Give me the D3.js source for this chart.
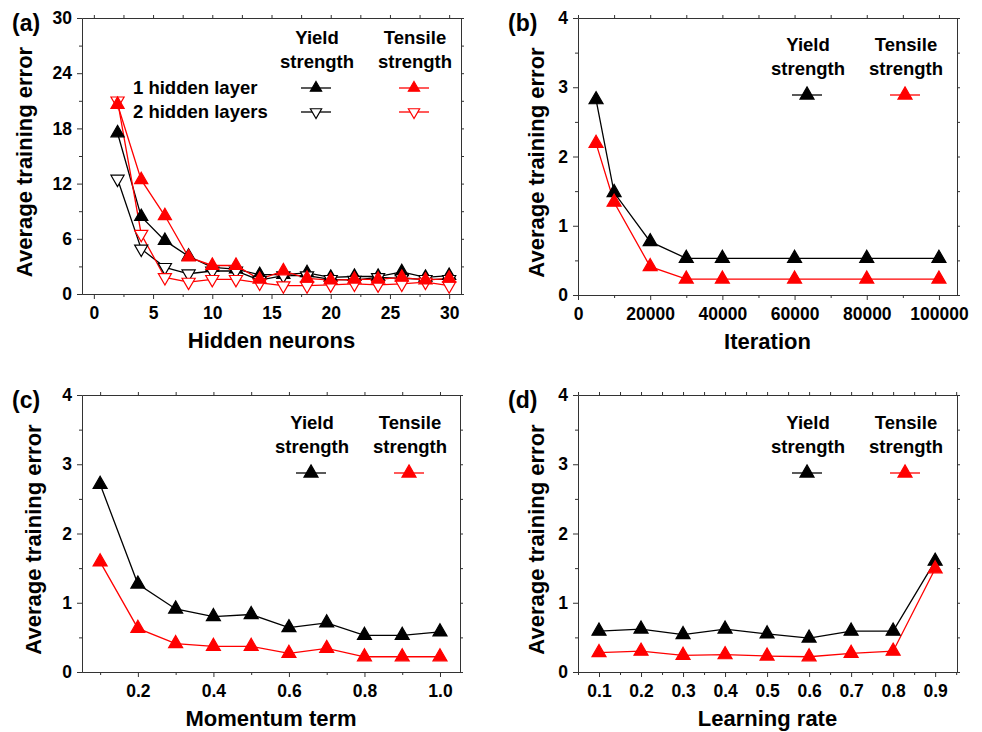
<!DOCTYPE html>
<html>
<head>
<meta charset="utf-8">
<script src="https://cdn.jsdelivr.net/npm/d3@7"></script>
<style>
body { margin: 0; background: #fff; }
text { font-family: "Liberation Sans", Arial, sans-serif; font-weight: bold; fill: #000; }
.axis text { font-size: 17.5px; font-family: "Liberation Sans", Arial, sans-serif; font-weight: bold; }
.axis path, .axis line { stroke: #333; stroke-width: 1; }
</style>
</head>
<body>
<div id="chart"></div>
<script>

// ---- data ----
// (a) hidden neurons
var neurons = [2, 4, 6, 8, 10, 12, 14, 16, 18, 20, 22, 24, 26, 28, 30];
var yield1Layer   = [17.5, 8.4, 5.8, 4.1, 2.9, 2.7, 2.1, 2.1, 2.3, 1.8, 1.9, 1.9, 2.4, 1.8, 2.0];
var tensile1Layer = [20.6, 12.4, 8.5, 4.0, 3.1, 3.1, 1.6, 2.5, 1.7, 1.5, 1.6, 1.6, 1.8, 1.5, 1.7];
var yield2Layer   = [12.5, 4.9, 2.9, 2.2, 2.5, 2.5, 1.5, 2.0, 2.0, 1.6, 1.5, 1.8, 1.7, 1.6, 1.6];
var tensile2Layer = [21.0, 6.5, 1.8, 1.3, 1.6, 1.6, 1.2, 0.9, 0.9, 1.0, 1.1, 1.0, 1.1, 1.3, 0.9];

// (b) iteration
var iterations   = [5000, 10000, 20000, 30000, 40000, 60000, 80000, 100000];
var yieldIter    = [2.82, 1.48, 0.77, 0.53, 0.53, 0.53, 0.53, 0.53];
var tensileIter  = [2.19, 1.34, 0.41, 0.23, 0.23, 0.23, 0.23, 0.23];

// (c) momentum term
var momentum     = [0.1, 0.2, 0.3, 0.4, 0.5, 0.6, 0.7, 0.8, 0.9, 1.0];
var yieldMom     = [2.71, 1.27, 0.91, 0.80, 0.83, 0.64, 0.71, 0.53, 0.53, 0.58];
var tensileMom   = [1.59, 0.63, 0.41, 0.37, 0.37, 0.27, 0.34, 0.22, 0.22, 0.22];

// (d) learning rate
var learningRate = [0.1, 0.2, 0.3, 0.4, 0.5, 0.6, 0.7, 0.8, 0.9];
var yieldRate    = [0.59, 0.62, 0.54, 0.62, 0.55, 0.49, 0.59, 0.59, 1.60];
var tensileRate  = [0.28, 0.30, 0.24, 0.25, 0.23, 0.22, 0.27, 0.30, 1.49];

// ticks
var aXTicks = [0, 5, 10, 15, 20, 25, 30],  aXMinor = [2.5, 7.5, 12.5, 17.5, 22.5, 27.5];
var aYTicks = [0, 6, 12, 18, 24, 30],      aYMinor = [3, 9, 15, 21, 27];
var bXTicks = [0, 20000, 40000, 60000, 80000, 100000];
var bXMinor = [10000, 30000, 50000, 70000, 90000];
var cXTicks = [0.2, 0.4, 0.6, 0.8, 1.0],   cXMinor = [0.1, 0.3, 0.5, 0.7, 0.9];
var dXTicks = [0.1, 0.2, 0.3, 0.4, 0.5, 0.6, 0.7, 0.8, 0.9];
var dXMinor = [0.05, 0.15, 0.25, 0.35, 0.45, 0.55, 0.65, 0.75, 0.85, 0.95];
var errTicks = [0, 1, 2, 3, 4],            errMinor = [0.5, 1.5, 2.5, 3.5];

var RED = "#ff0000";

var svg = d3.select("#chart").append("svg")
    .attr("width", 982)
    .attr("height", 732);

svg.append("rect").attr("width", 982).attr("height", 732).attr("fill", "#fff");

var triangle = d3.symbol().type(d3.symbolTriangle);

// draw one marker
function marker(g, cx, cy, s, size) {
    g.append("path")
        .attr("d", triangle.size(size)())
        .attr("transform", "translate(" + cx + "," + cy + ")" + (s.down ? " rotate(180)" : ""))
        .attr("fill", s.fill)
        .attr("stroke", s.color)
        .attr("stroke-width", 1.2);
}

function drawPanel(p) {
    var g = svg.append("g")
        .attr("transform", "translate(" + p.left + "," + p.top + ")");

    var x = d3.scaleLinear().domain(p.xDomain).range([0, p.width]);
    var y = d3.scaleLinear().domain(p.yDomain).range([p.height, 0]);

    // minor ticks
    g.append("g").attr("class", "axis")
        .attr("transform", "translate(0," + p.height + ")")
        .call(d3.axisBottom(x).tickValues(p.xMinor).tickSize(3).tickSizeOuter(0).tickFormat(""));
    g.append("g").attr("class", "axis")
        .call(d3.axisLeft(y).tickValues(p.yMinor).tickSize(3).tickSizeOuter(0).tickFormat(""));

    // major ticks + labels
    g.append("g").attr("class", "axis")
        .attr("transform", "translate(0," + p.height + ")")
        .call(d3.axisBottom(x).tickValues(p.xTicks).tickSize(5).tickSizeOuter(0)
            .tickPadding(8).tickFormat(p.xFormat));
    g.append("g").attr("class", "axis")
        .call(d3.axisLeft(y).tickValues(p.yTicks).tickSize(5).tickSizeOuter(0)
            .tickPadding(5).tickFormat(d3.format("d")));

    // mirrored top / right
    g.append("g").attr("class", "axis")
        .call(d3.axisTop(x).tickValues(p.xTicks.concat(p.xMinor)).tickSize(3).tickSizeOuter(0).tickFormat(""));
    g.append("g").attr("class", "axis")
        .attr("transform", "translate(" + p.width + ",0)")
        .call(d3.axisRight(y).tickValues(p.yTicks.concat(p.yMinor)).tickSize(3).tickSizeOuter(0).tickFormat(""));

    // axis titles
    svg.append("text")
        .attr("x", p.left + p.width / 2)
        .attr("y", p.top + p.height + 54)
        .attr("text-anchor", "middle")
        .style("font-size", "22px")
        .text(p.xTitle);

    svg.append("text")
        .attr("transform", "translate(" + (p.left - p.yTitleOff) + "," + (p.top + p.height / 2 + 6) + ") rotate(-90)")
        .attr("text-anchor", "middle")
        .attr("dy", "0.35em")
        .style("font-size", "22px")
        .text("Average training error");

    svg.append("text")
        .attr("x", p.left - 70)
        .attr("y", p.top + 13)
        .style("font-size", "23px")
        .text(p.label);

    // lines and markers
    var line = d3.line()
        .x(function(d) { return x(d[0]); })
        .y(function(d) { return y(d[1]); });

    p.series.forEach(function(s) {
        var pts = d3.zip(p.xs, s.values);
        g.append("path")
            .attr("d", line(pts))
            .attr("fill", "none")
            .attr("stroke", s.color)
            .attr("stroke-width", 1.3);
    });
    p.series.forEach(function(s) {
        d3.zip(p.xs, s.values).forEach(function(d) {
            marker(g, x(d[0]), y(d[1]), s, p.markerSize);
        });
    });

    // legend
    var lg = g.append("g");
    var cols = [230, 328];
    ["Yield", "Tensile"].forEach(function(t, i) {
        lg.append("text")
            .attr("x", cols[i] + p.legendDx).attr("y", p.legendTop)
            .attr("text-anchor", "middle").style("font-size", "18.5px").text(t);
        lg.append("text")
            .attr("x", cols[i] + p.legendDx).attr("y", p.legendTop + 24)
            .attr("text-anchor", "middle").style("font-size", "18.5px").text("strength");
    });
    p.legendRows.forEach(function(row, r) {
        var ry = p.legendTop + 44 + r * 24;
        row.series.forEach(function(s, i) {
            var cx = cols[i] + p.legendDx - 1;
            lg.append("line")
                .attr("x1", cx - 15).attr("x2", cx + 15)
                .attr("y1", ry).attr("y2", ry)
                .attr("stroke", s.color).attr("stroke-width", 1.3);
            marker(lg, cx, ry, s, p.legendMarkerSize);
        });
        if (row.label) {
            lg.append("text")
                .attr("x", 51).attr("y", ry)
                .attr("dy", "0.35em")
                .style("font-size", "18.5px")
                .text(row.label);
        }
    });
}

var s1Y = { values: yield1Layer,   color: "#000", fill: "#000", down: false };
var s1T = { values: tensile1Layer, color: RED,    fill: RED,    down: false };
var s2Y = { values: yield2Layer,   color: "#000", fill: "#fff", down: true };
var s2T = { values: tensile2Layer, color: RED,    fill: "#fff", down: true };

drawPanel({
    label: "(a)", left: 82, top: 18, width: 379, height: 276,
    xDomain: [-1, 31], yDomain: [0, 30],
    xTicks: aXTicks, xMinor: aXMinor, yTicks: aYTicks, yMinor: aYMinor,
    xFormat: d3.format("d"), xTitle: "Hidden neurons", yTitleOff: 58,
    xs: neurons,
    series: [s1Y, s2Y, s2T, s1T],
    markerSize: 75, legendMarkerSize: 55,
    legendTop: 26, legendDx: 5,
    legendRows: [
        { label: "1 hidden layer",  series: [s1Y, s1T] },
        { label: "2 hidden layers", series: [s2Y, s2T] }
    ]
});

var bY = { values: yieldIter,   color: "#000", fill: "#000", down: false };
var bT = { values: tensileIter, color: RED,    fill: RED,    down: false };
drawPanel({
    label: "(b)", left: 578, top: 18, width: 379, height: 277,
    xDomain: [0, 105000], yDomain: [0, 4],
    xTicks: bXTicks, xMinor: bXMinor, yTicks: errTicks, yMinor: errMinor,
    xFormat: d3.format("d"), xTitle: "Iteration", yTitleOff: 42,
    xs: iterations,
    series: [bY, bT],
    markerSize: 85, legendMarkerSize: 85,
    legendTop: 33, legendDx: 0,
    legendRows: [{ series: [bY, bT] }]
});

var cY = { values: yieldMom,   color: "#000", fill: "#000", down: false };
var cT = { values: tensileMom, color: RED,    fill: RED,    down: false };
drawPanel({
    label: "(c)", left: 82, top: 395, width: 378, height: 277,
    xDomain: [0.052, 1.053], yDomain: [0, 4],
    xTicks: cXTicks, xMinor: cXMinor, yTicks: errTicks, yMinor: errMinor,
    xFormat: d3.format(".1f"), xTitle: "Momentum term", yTitleOff: 49,
    xs: momentum,
    series: [cY, cT],
    markerSize: 85, legendMarkerSize: 85,
    legendTop: 34, legendDx: 0,
    legendRows: [{ series: [cY, cT] }]
});

var dY = { values: yieldRate,   color: "#000", fill: "#000", down: false };
var dT = { values: tensileRate, color: RED,    fill: RED,    down: false };
drawPanel({
    label: "(d)", left: 578, top: 395, width: 379, height: 277,
    xDomain: [0.05, 0.952], yDomain: [0, 4],
    xTicks: dXTicks, xMinor: dXMinor, yTicks: errTicks, yMinor: errMinor,
    xFormat: d3.format(".1f"), xTitle: "Learning rate", yTitleOff: 42,
    xs: learningRate,
    series: [dY, dT],
    markerSize: 85, legendMarkerSize: 85,
    legendTop: 34, legendDx: 0,
    legendRows: [{ series: [dY, dT] }]
});

</script>
</body>
</html>
